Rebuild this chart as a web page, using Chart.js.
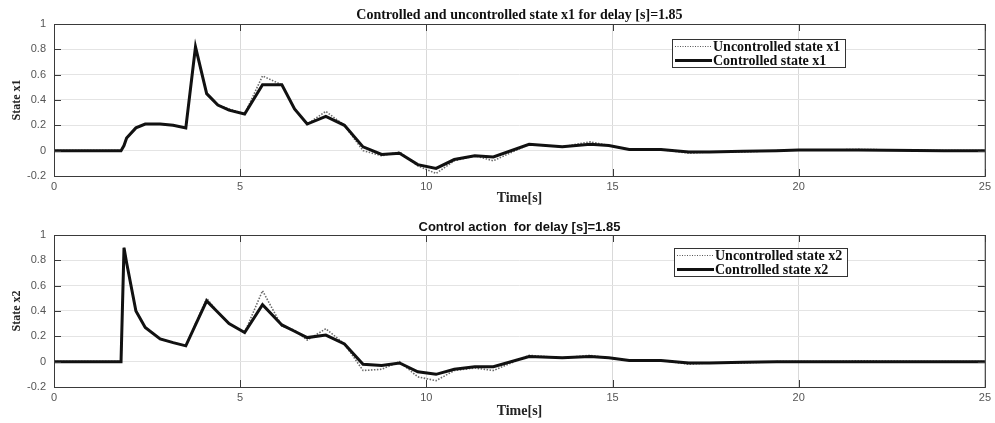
<!DOCTYPE html>
<html>
<head>
<meta charset="utf-8">
<script src="https://cdn.jsdelivr.net/npm/chart.js@4"></script>
<style>
  html, body { margin:0; padding:0; background:#fff; }
  #wrap { width:995px; height:423px; position:relative; }
  canvas { display:block; }
</style>
</head>
<body>
<div id="wrap">
  <canvas id="top" width="995" height="207"></canvas>
  <canvas id="bottom" width="995" height="216"></canvas>
</div>
<script>
// ===============================
// DATA
// ===============================

const time = [0, 1.8, 1.88, 1.95, 2.2, 2.45, 2.85, 3.2, 3.54, 3.8, 4.1, 4.4, 4.7, 5.12, 5.6, 6.12, 6.46, 6.8, 7.3, 7.8,
  8.3, 8.8, 9.28, 9.77, 10.26, 10.75, 11.3, 11.8, 12.76, 13.65, 14.4, 14.9, 15.45, 16.3, 17.05, 17.6, 18.5, 19.4,
  20, 20.8, 21.6, 23.9, 25];

const x1Uncontrolled = [0, 0, 0.04, 0.1, 0.18, 0.21, 0.21, 0.2, 0.18, 0.82, 0.45, 0.36, 0.33, 0.29, 0.59, 0.52, 0.33, 0.21, 0.31, 0.2,
  0.0, -0.04, -0.01, -0.12, -0.18, -0.08, -0.04, -0.08, 0.05, 0.03, 0.07, 0.04, 0.01, 0.01, -0.02, -0.01, -0.01, 0,
  0.005, 0.005, 0.01, 0, 0];

const x1Controlled = [0, 0, 0.04, 0.1, 0.18, 0.21, 0.21, 0.2, 0.18, 0.82, 0.45, 0.36, 0.32, 0.29, 0.52, 0.52, 0.33, 0.21, 0.27, 0.2,
  0.03, -0.03, -0.02, -0.11, -0.14, -0.07, -0.04, -0.05, 0.05, 0.03, 0.05, 0.04, 0.01, 0.01, -0.01, -0.01, -0.005, 0,
  0.005, 0.005, 0.005, 0, 0];

const x2Uncontrolled = [0, 0, 0.9, 0.78, 0.4, 0.27, 0.18, 0.15, 0.125, 0.3, 0.5, 0.39, 0.3, 0.23, 0.56, 0.28, 0.25, 0.17, 0.26, 0.14,
  -0.07, -0.06, 0.0, -0.12, -0.15, -0.07, -0.05, -0.07, 0.05, 0.03, 0.05, 0.03, 0.01, 0.01, -0.02, -0.01, -0.01, 0,
  0, 0, 0.005, 0, 0];

const x2Controlled = [0, 0, 0.9, 0.78, 0.4, 0.27, 0.18, 0.15, 0.125, 0.29, 0.48, 0.39, 0.3, 0.23, 0.45, 0.29, 0.24, 0.19, 0.21, 0.14,
  -0.02, -0.03, -0.01, -0.08, -0.1, -0.06, -0.04, -0.04, 0.04, 0.03, 0.04, 0.03, 0.01, 0.01, -0.01, -0.01, -0.005, 0,
  0, 0, 0, 0, 0];

const xTicks = [0, 5, 10, 15, 20, 25];
const yTicks = [-0.2, 0, 0.2, 0.4, 0.6, 0.8, 1];

// ===============================
// PLUGINS
// ===============================

// box around the axes with small inward ticks (matlab look)
const frame = {
  id: "frame",
  afterDatasetsDraw(chart){
    const { ctx, chartArea: a, scales } = chart;
    ctx.save();
    ctx.strokeStyle = "#3a3a3a";
    ctx.lineWidth = 1;
    ctx.strokeRect(a.left + 0.5, a.top + 0.5, a.right - a.left, a.bottom - a.top);
    ctx.beginPath();
    xTicks.forEach(v => {
      const px = Math.round(scales.x.getPixelForValue(v)) + 0.5;
      ctx.moveTo(px, a.top); ctx.lineTo(px, a.top + 7);
      ctx.moveTo(px, a.bottom); ctx.lineTo(px, a.bottom - 7);
    });
    yTicks.forEach(v => {
      const py = Math.round(scales.y.getPixelForValue(v)) + 0.5;
      ctx.moveTo(a.left, py); ctx.lineTo(a.left + 7, py);
      ctx.moveTo(a.right, py); ctx.lineTo(a.right - 7, py);
    });
    ctx.stroke();
    ctx.restore();
  }
};

// legend box inside the plot area
const boxLegend = {
  id: "boxLegend",
  afterDraw(chart, args, opts){
    const { ctx, chartArea: a } = chart;
    const x = a.left + opts.x, y = a.top + opts.y;
    ctx.save();
    ctx.fillStyle = "#fff";
    ctx.fillRect(x, y, opts.w, opts.h);
    ctx.strokeStyle = "#333";
    ctx.lineWidth = 1;
    ctx.strokeRect(x + 0.5, y + 0.5, opts.w, opts.h);
    ctx.font = "bold 14px 'Liberation Serif', serif";
    ctx.textBaseline = "middle";
    opts.items.forEach((it, i) => {
      const ly = y + 7.5 + i * 14;
      ctx.beginPath();
      ctx.strokeStyle = it.color;
      ctx.lineWidth = it.width;
      ctx.setLineDash(it.dash);
      ctx.moveTo(x + 3, ly);
      ctx.lineTo(x + 40, ly);
      ctx.stroke();
      ctx.setLineDash([]);
      ctx.fillStyle = "#111";
      ctx.fillText(it.text, x + 41, ly + 0.5);
    });
    ctx.restore();
  }
};

// ===============================
// BUILD CHART
// ===============================

function montarGrafico(id, cfg){

  const pts = arr => arr.map((v, i) => ({ x: time[i], y: v }));

  return new Chart(document.getElementById(id), {
    type: "line",
    data: {
      datasets: [
        {
          label: cfg.labels[0],
          data: pts(cfg.unc),
          borderColor: "#6a6a6a",
          borderWidth: 1.6,
          borderDash: [1.5, 1.5],
          pointRadius: 0,
          tension: 0,
          order: 2
        },
        {
          label: cfg.labels[1],
          data: pts(cfg.ctl),
          borderColor: "#111",
          borderWidth: 3,
          pointRadius: 0,
          tension: 0,
          order: 1
        }
      ]
    },
    options: {
      responsive: false,
      animation: false,
      events: [],
      layout: { padding: { left: 0, right: 9, top: 0, bottom: 0 } },
      plugins: {
        legend: { display: false },
        tooltip: { enabled: false },
        title: {
          display: true,
          fullSize: false,
          text: cfg.title,
          color: "#111",
          font: cfg.titleFont,
          padding: cfg.titlePad
        },
        boxLegend: {
          x: cfg.legendX, y: cfg.legendY, w: 173, h: 28,
          items: [
            { text: cfg.labels[0], color: "#555", width: 1.2, dash: [1, 1.5] },
            { text: cfg.labels[1], color: "#111", width: 3, dash: [] }
          ]
        }
      },
      scales: {
        x: {
          type: "linear",
          min: 0, max: 25,
          afterFit: s => { s.height = cfg.xHeight; },
          afterBuildTicks: s => { s.ticks = xTicks.map(v => ({ value: v })); },
          ticks: {
            color: "#555",
            font: { family: "'Liberation Sans', Arial, sans-serif", size: 11 },
            padding: 4,
            maxRotation: 0
          },
          grid: { color: "#d9d9d9", drawTicks: false },
          border: { display: false },
          title: {
            display: true,
            text: "Time[s]",
            color: "#222",
            font: { family: "'Liberation Serif', serif", size: 14, weight: "bold" },
            padding: { top: 0, bottom: cfg.timePad }
          }
        },
        y: {
          min: -0.2, max: 1,
          afterFit: s => { s.width = 54; },
          afterBuildTicks: s => { s.ticks = yTicks.map(v => ({ value: v })); },
          ticks: {
            color: "#555",
            font: { family: "'Liberation Sans', Arial, sans-serif", size: 11 },
            padding: 8,
            callback: v => String(Math.round(v * 10) / 10)
          },
          grid: { color: "#e4e4e4", drawTicks: false },
          border: { display: false },
          title: {
            display: true,
            text: cfg.yTitle,
            color: "#222",
            font: { family: "'Liberation Serif', serif", size: 12, weight: "bold" },
            padding: { top: 10, bottom: 0 }
          }
        }
      }
    },
    plugins: [frame, boxLegend]
  });
}

montarGrafico("top", {
  title: "Controlled and uncontrolled state x1 for delay [s]=1.85",
  titleFont: { family: "'Liberation Serif', serif", size: 14, weight: "bold" },
  titlePad: { top: 6.6, bottom: 0.6 },
  labels: ["Uncontrolled state x1", "Controlled state x1"],
  unc: x1Uncontrolled,
  ctl: x1Controlled,
  yTitle: "State x1",
  xHeight: 31,
  timePad: 0.6,
  legendX: 618,
  legendY: 15
});

montarGrafico("bottom", {
  title: "Control action  for delay [s]=1.85",
  titleFont: { family: "'Liberation Sans', Arial, sans-serif", size: 13, weight: "bold" },
  titlePad: { top: 12.4, bottom: 0 },
  labels: ["Uncontrolled state x2", "Controlled state x2"],
  unc: x2Uncontrolled,
  ctl: x2Controlled,
  yTitle: "State x2",
  xHeight: 36,
  timePad: 3.6,
  legendX: 620,
  legendY: 13
});
</script>
</body>
</html>
